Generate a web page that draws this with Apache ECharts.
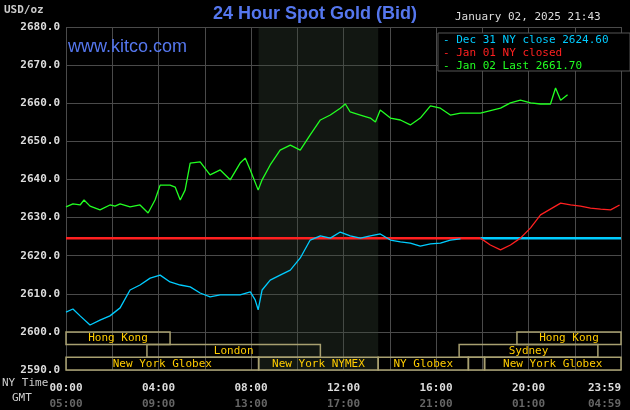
<!DOCTYPE html>
<html><head><meta charset="utf-8">
<script src="https://cdn.jsdelivr.net/npm/echarts@6/dist/echarts.min.js"></script>
<style>html,body{margin:0;background:#000;overflow:hidden}#c{width:630px;height:410px}</style>
</head><body><div id="c"></div>
<script>
const xTicksNY = ['00:00','04:00','08:00','12:00','16:00','20:00','23:59'];
const xTicksGMT = ['05:00','09:00','13:00','17:00','21:00','01:00','04:59'];
const closeDec31 = 2624.6;
const jan02 = [[0,2632.8],[0.3,2633.6],[0.61,2633.3],[0.78,2634.6],[1.04,2633.0],[1.47,2632.0],[1.9,2633.3],[2.12,2633.0],[2.34,2633.6],[2.77,2632.8],[3.2,2633.3],[3.55,2631.2],[3.85,2634.6],[4.07,2638.5],[4.5,2638.5],[4.72,2638.0],[4.94,2634.6],[5.15,2637.2],[5.37,2644.3],[5.8,2644.6],[6.23,2641.2],[6.67,2642.5],[7.1,2639.9],[7.53,2644.3],[7.75,2645.6],[7.97,2642.5],[8.31,2637.2],[8.48,2639.9],[8.83,2643.8],[9.26,2647.7],[9.7,2649.0],[10.13,2647.7],[10.56,2651.7],[11.0,2655.6],[11.43,2656.9],[11.86,2658.7],[12.08,2659.8],[12.29,2657.7],[12.73,2656.9],[13.16,2656.1],[13.38,2655.1],[13.59,2658.2],[14.03,2656.1],[14.46,2655.6],[14.89,2654.3],[15.32,2656.1],[15.76,2659.3],[16.19,2658.7],[16.62,2656.9],[17.06,2657.4],[17.92,2657.4],[18.79,2658.7],[19.22,2660.1],[19.65,2660.8],[20.09,2660.1],[20.52,2659.8],[20.95,2659.8],[21.17,2664.0],[21.39,2660.8],[21.69,2662.2]];
const dec31 = [[0,2605.2],[0.3,2606.0],[0.61,2604.2],[1.04,2601.8],[1.47,2603.1],[1.9,2604.2],[2.34,2606.3],[2.77,2611.0],[3.2,2612.3],[3.64,2614.1],[4.07,2614.9],[4.5,2613.1],[4.94,2612.3],[5.37,2611.8],[5.8,2610.2],[6.23,2609.2],[6.67,2609.7],[7.1,2609.7],[7.53,2609.7],[7.97,2610.5],[8.18,2608.4],[8.31,2605.8],[8.48,2611.0],[8.83,2613.6],[9.26,2614.9],[9.7,2616.2],[10.13,2619.4],[10.56,2624.1],[11.0,2625.2],[11.43,2624.6],[11.86,2626.2],[12.29,2625.2],[12.73,2624.6],[13.16,2625.2],[13.59,2625.7],[14.03,2624.1],[14.46,2623.6],[14.89,2623.3],[15.32,2622.5],[15.76,2623.1],[16.19,2623.3],[16.62,2624.1],[17.06,2624.4]];
const jan01 = [[17.92,2624.6],[18.35,2622.8],[18.79,2621.5],[19.22,2622.8],[19.65,2624.6],[20.09,2627.3],[20.52,2630.7],[21.39,2633.8],[21.82,2633.3],[22.25,2633.0],[22.68,2632.5],[23.12,2632.2],[23.55,2632.0],[23.94,2633.3]];
const sessions = [
 [0,4.5,0,'Hong Kong'],[19.5,24,0,'Hong Kong'],
 [3.5,11,1,'London'],[17,23,1,'Sydney'],
 [0,8.33,2,'New York Globex'],[8.33,13.5,2,'New York NYMEX'],[13.5,17.4,2,'NY Globex'],[17.4,18.1,2,''],[18.1,24,2,'New York Globex']];
const shade = [8.33, 13.5];

const mono = 'DejaVu Sans Mono';
const chart = echarts.init(document.getElementById('c'), null, {width:630,height:410});
const rowTop = [2600, 2596.67, 2593.33];
chart.setOption({
 backgroundColor:'#000', animation:false,
 grid:{left:66,right:9,top:27,bottom:40,containLabel:false,outerBoundsMode:'none'},
 xAxis:{type:'value',min:0,max:24,interval:2,
  axisLine:{show:false},axisTick:{show:false},
  splitLine:{lineStyle:{color:'#4a4a4a'}},
  axisLabel:{margin:10,interval:0,alignMaxLabel:'right',formatter:v=>{ if(v%4!==0&&v!==24) return ''; const k=v===24?6:Math.round(v/4); return '{a|'+xTicksNY[k]+'}\n{b|'+xTicksGMT[k]+'}';},
   rich:{a:{color:'#ddd',fontFamily:mono,fontSize:11,fontWeight:'bold',lineHeight:16},b:{color:'#666',fontFamily:mono,fontSize:11,fontWeight:'bold',lineHeight:16}}}},
 yAxis:{type:'value',min:2590,max:2680,interval:10,
  axisLine:{show:false},axisTick:{show:false},
  splitLine:{lineStyle:{color:'#4a4a4a'}},
  axisLabel:{color:'#ddd',fontFamily:mono,fontSize:11,fontWeight:'bold',formatter:v=>v.toFixed(1),margin:6}},
 graphic:{elements:[
  {type:'text',left:'center',top:5,z:100,style:{text:'24 Hour Spot Gold (Bid)',fill:'#5577ee',font:'bold 18px "Liberation Sans", Arial'}},
  {type:'text',left:4,top:5,z:100,style:{text:'USD/oz',fill:'#ccc',font:'bold 11px "DejaVu Sans Mono"'}},
  {type:'text',left:455,top:12,z:100,style:{text:'January 02, 2025 21:43',fill:'#ddd',font:'11px "DejaVu Sans Mono"'}},
  {type:'text',left:68,top:38,z:100,style:{text:'www.kitco.com',fill:'#5577ee',font:'18px "Liberation Sans", Arial'}},
  {type:'rect',z:100,shape:{x:438,y:33,width:192,height:38},style:{fill:'#000',stroke:'#555'}},
  {type:'text',left:443,top:35,z:101,style:{text:'- Dec 31 NY close 2624.60',fill:'#00ccff',font:'11px "DejaVu Sans Mono"'}},
  {type:'text',left:443,top:48,z:101,style:{text:'- Jan 01 NY closed',fill:'#ff2020',font:'11px "DejaVu Sans Mono"'}},
  {type:'text',left:443,top:61,z:101,style:{text:'- Jan 02 Last 2661.70',fill:'#22ff22',font:'11px "DejaVu Sans Mono"'}},
  {type:'text',left:2,top:378,z:100,style:{text:'NY Time',fill:'#ccc',font:'11px "DejaVu Sans Mono"'}},
  {type:'text',left:12,top:393,z:100,style:{text:'GMT',fill:'#ccc',font:'11px "DejaVu Sans Mono"'}}
 ]},
 series:[
  {type:'line',data:[],silent:true,markArea:{silent:true,itemStyle:{color:'rgba(60,75,60,0.3)'},data:[[{xAxis:shade[0]},{xAxis:shade[1]}]]}},
  {type:'custom',silent:true,z:5,data:sessions,renderItem:(p,api)=>{
    const s=api.value(0),e=api.value(1),r=api.value(2);
    const top=rowTop[r],bot=top-3.33;
    const a=api.coord([s,top]),b=api.coord([e,bot]);
    const d=sessions[p.dataIndex];
    return {type:'group',children:[
     {type:'rect',shape:{x:a[0],y:a[1],width:b[0]-a[0],height:b[1]-a[1]},style:{fill:'rgba(0,0,0,0)',stroke:'#a8a070',lineWidth:1.5}},
     {type:'text',style:{text:d[3],x:(a[0]+b[0])/2,y:(a[1]+b[1])/2,align:'center',verticalAlign:'middle',fill:'#ffcc00',font:'11px "DejaVu Sans Mono"'}}]};
  }},
  {type:'line',data:[[0,closeDec31],[17.92,closeDec31]],symbol:'none',lineStyle:{color:'#ff2020',width:2.5},z:3},
  {type:'line',data:[[17.92,closeDec31],[24,closeDec31]],symbol:'none',lineStyle:{color:'#00ccff',width:2.5},z:3},
  {type:'line',data:dec31,symbol:'none',lineStyle:{color:'#00ccff',width:1.3},z:4},
  {type:'line',data:jan01,symbol:'none',lineStyle:{color:'#ff2020',width:1.3},z:4},
  {type:'line',data:jan02,symbol:'none',lineStyle:{color:'#22ff22',width:1.3},z:4}
 ]
});
</script></body></html>
